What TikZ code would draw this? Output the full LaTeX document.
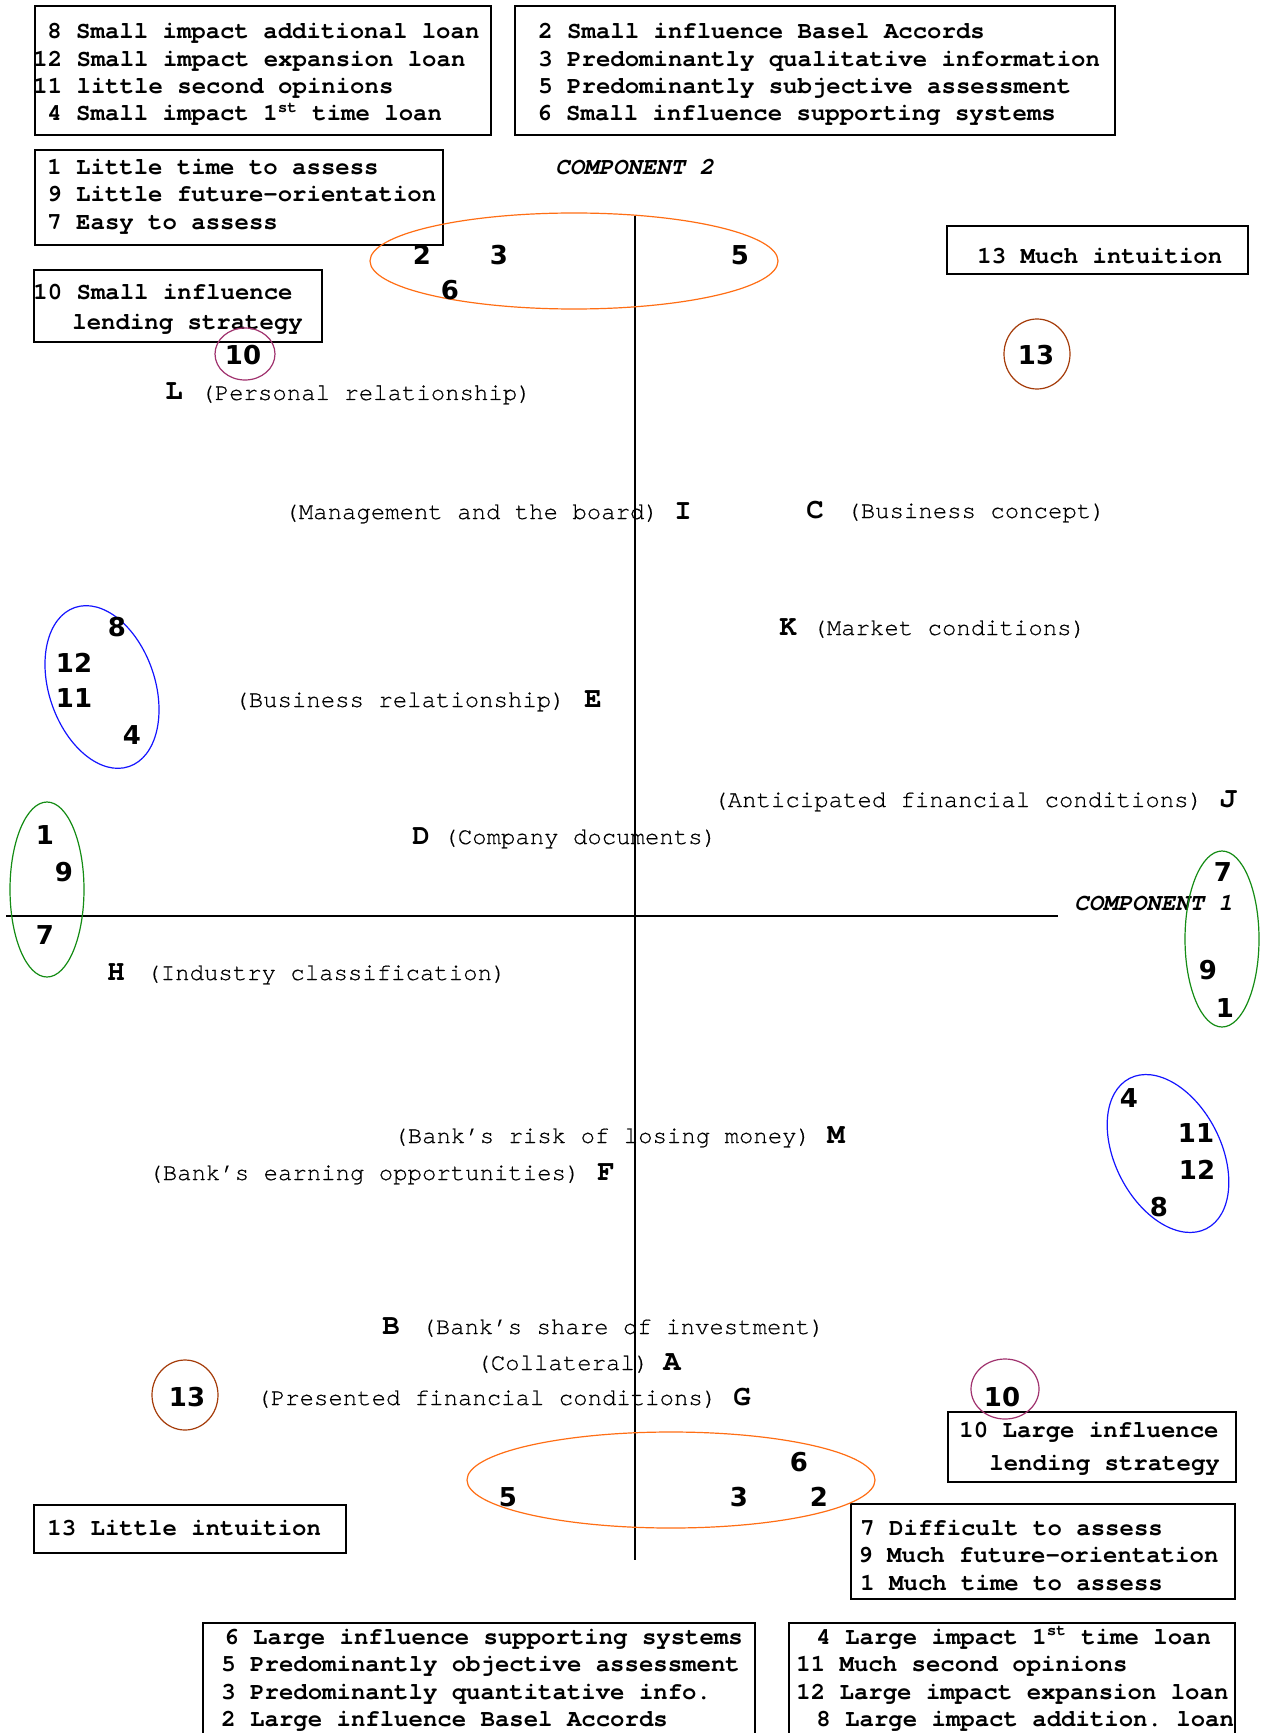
\documentclass[tikz,border=0pt]{standalone}
\usepackage{fontspec}
\setmonofont{TeX Gyre Cursor}[Ligatures=NoCommon]
\newfontfamily\lblfont{TeX Gyre Cursor}[Ligatures=NoCommon, FakeBold=0.4]
\newfontfamily\numfont{DejaVu Sans}
\definecolor{ringorange}{RGB}{255,110,20}
\definecolor{ringblue}{RGB}{20,20,255}
\definecolor{ringgreen}{RGB}{20,140,20}
\definecolor{ringbrown}{RGB}{165,60,10}
\definecolor{ringpurple}{RGB}{160,50,110}
\tikzset{
  boxtxt/.style={anchor=base west, inner sep=0pt, font=\ttfamily\bfseries\fontsize{12}{14}\selectfont},
  lbl/.style={anchor=base west, inner sep=0pt, font=\lblfont\fontsize{12}{14}\selectfont},
  letter/.style={anchor=base west, inner sep=0pt, font=\ttfamily\bfseries\fontsize{14.5}{16}\selectfont},
  num/.style={inner sep=0pt, font=\numfont\bfseries\fontsize{13}{15}\selectfont},
  comp/.style={anchor=base west, inner sep=0pt, font=\ttfamily\bfseries\itshape\fontsize{12}{14}\selectfont},
  legend/.style={draw, line width=0.9pt},
  axis/.style={line width=0.9pt},
  ring/.style={line width=0.6pt},
}
\begin{document}
\begin{tikzpicture}[x=0.5pt,y=-0.5pt]
\fill[white] (0,0) rectangle (1260,1733);
\useasboundingbox (0,0) rectangle (1260,1733);
\begin{scope}
\clip (0,0) rectangle (1260,1733);
% legend boxes
\draw[legend] (35,6) rectangle (491,135);
\draw[legend] (515,6) rectangle (1115,135);
\draw[legend] (35,150) rectangle (443,245);
\draw[legend] (34,270) rectangle (322,342);
\draw[legend] (947,226) rectangle (1248,274);
\draw[legend] (948,1412) rectangle (1236,1482);
\draw[legend] (851,1504) rectangle (1235,1599);
\draw[legend] (34,1505) rectangle (346,1553);
\draw[legend] (203,1623) rectangle (755,1760);
\draw[legend] (789,1623) rectangle (1235,1760);
\end{scope}

% box texts
\node[boxtxt] (b1a) at (47,39) {8 Small impact additional loan};
\node[boxtxt] (b1b) at (33,67) {12 Small impact expansion loan};
\node[boxtxt] (b1c) at (33,94) {11 little second opinions};
\node[boxtxt] (b1d) at (47,121) {4 Small impact 1\textsuperscript{st} time loan};

\node[boxtxt] (b2a) at (538,39) {2 Small influence Basel Accords};
\node[boxtxt] (b2b) at (538,67) {3 Predominantly qualitative information};
\node[boxtxt] (b2c) at (538,94) {5 Predominantly subjective assessment};
\node[boxtxt] (b2d) at (537,121) {6 Small influence supporting systems};

\node[boxtxt] (b3a) at (47,175) {1 Little time to assess};
\node[boxtxt] (b3b) at (47,202) {9 Little future-orientation};
\node[boxtxt] (b3c) at (47,230) {7 Easy to assess};

\node[boxtxt] (b4a) at (33,300) {10 Small influence};
\node[boxtxt] (b4b) at (72,330) {lending strategy};

\node[boxtxt] (b5a) at (977,264) {13 Much intuition};

\node[boxtxt] (b6a) at (959,1437) {10 Large influence};
\node[boxtxt] (b6b) at (989,1470) {lending strategy};

\node[boxtxt] (b7a) at (860,1535) {7 Difficult to assess};
\node[boxtxt] (b7b) at (858,1562) {9 Much future-orientation};
\node[boxtxt] (b7c) at (860,1590) {1 Much time to assess};

\node[boxtxt] (b8a) at (47,1535) {13 Little intuition};

\node[boxtxt] (b9a) at (224,1644) {6 Large influence supporting systems};
\node[boxtxt] (b9b) at (221,1671) {5 Predominantly objective assessment};
\node[boxtxt] (b9c) at (221,1699) {3 Predominantly quantitative info.};
\node[boxtxt] (b9d) at (221,1726) {2 Large influence Basel Accords};

\node[boxtxt] (b10a) at (816,1644) {4 Large impact 1\textsuperscript{st} time loan};
\node[boxtxt] (b10b) at (796,1671) {11 Much second opinions};
\node[boxtxt] (b10c) at (796,1699) {12 Large impact expansion loan};
\node[boxtxt] (b10d) at (816,1726) {8 Large impact addition. loan};

% axes
\coordinate (ytop) at (635,216);
\coordinate (ybot) at (635,1560);
\coordinate (xleft) at (6,916);
\coordinate (xright) at (1058,916);
\draw[axis] (ytop) -- (ybot);
\draw[axis] (xleft) -- (xright);
\node[comp] (comp2) at (555,175) {COMPONENT 2};
\node[comp] (comp1) at (1074,910) {COMPONENT 1};

% variable labels
\node[letter] (lL) at (165,400) {L};
\node[lbl] (tL) at (200,400) {(Personal relationship)};
\node[lbl] (tI) at (284,519) {(Management and the board)};
\node[letter] (lI) at (674,519) {I};
\node[letter] (lC) at (806,518) {C};
\node[lbl] (tC) at (846,518) {(Business concept)};
\node[letter] (lK) at (779,635) {K};
\node[lbl] (tK) at (812,635) {(Market conditions)};
\node[lbl] (tE) at (234,707) {(Business relationship)};
\node[letter] (lE) at (584,707) {E};
\node[lbl] (tJ) at (713,807) {(Anticipated financial conditions)};
\node[letter] (lJ) at (1219,807) {J};
\node[letter] (lD) at (412,844) {D};
\node[lbl] (tD) at (443,844) {(Company documents)};
\node[letter] (lH) at (107,980) {H};
\node[lbl] (tH) at (146,980) {(Industry classification)};
\node[lbl] (tM) at (393,1143) {(Bank’s risk of losing money)};
\node[letter] (lM) at (827,1143) {M};
\node[lbl] (tF) at (148,1180) {(Bank’s earning opportunities)};
\node[letter] (lF) at (597,1180) {F};
\node[letter] (lB) at (382,1334) {B};
\node[lbl] (tB) at (421,1334) {(Bank’s share of investment)};
\node[lbl] (tA) at (476,1370) {(Collateral)};
\node[letter] (lA) at (663,1370) {A};
\node[lbl] (tG) at (256,1405) {(Presented financial conditions)};
\node[letter] (lG) at (733,1405) {G};

% rings
\draw[ring, ringorange] (574,261) ellipse [x radius=204, y radius=48];
\draw[ring, ringorange] (671,1480) ellipse [x radius=204, y radius=48];
\draw[ring, ringblue, rotate around={18.8:(102,687)}] (102,687) ellipse [x radius=53, y radius=84];
\draw[ring, ringblue, rotate around={27:(1168,1153.5)}] (1168,1153.5) ellipse [x radius=53, y radius=84.4];
\draw[ring, ringgreen] (47,889.5) ellipse [x radius=37, y radius=87.5];
\draw[ring, ringgreen] (1222,939) ellipse [x radius=37, y radius=88];
\draw[ring, ringpurple] (245,354) ellipse [x radius=30, y radius=26];
\draw[ring, ringpurple] (1005,1389) ellipse [x radius=34, y radius=30];
\draw[ring, ringbrown] (1037,354) ellipse [x radius=33, y radius=35];
\draw[ring, ringbrown] (185,1395) ellipse [x radius=33, y radius=35];

% numbers
\node[num] (nt2) at (422,255) {2};
\node[num] (nt3) at (499,255) {3};
\node[num] (nt6) at (450,290) {6};
\node[num] (nt5) at (740,255) {5};
\node[num] (nt10) at (243,355) {10};
\node[num] (nt13) at (1036,355) {13};
\node[num] (nl8) at (117,627) {8};
\node[num] (nl12) at (74,663) {12};
\node[num] (nl11) at (74,698) {11};
\node[num] (nl4) at (132,735) {4};
\node[num] (ng1) at (45,835) {1};
\node[num] (ng9) at (64,872) {9};
\node[num] (ng7) at (45,935) {7};
\node[num] (nr7) at (1223,872) {7};
\node[num] (nr9) at (1208,970) {9};
\node[num] (nr1) at (1225,1008) {1};
\node[num] (nb4) at (1129,1098) {4};
\node[num] (nb11) at (1196,1133) {11};
\node[num] (nb12) at (1197,1170) {12};
\node[num] (nb8) at (1159,1207) {8};
\node[num] (nd13) at (187,1397) {13};
\node[num] (nd10) at (1002,1397) {10};
\node[num] (nd5) at (508,1497) {5};
\node[num] (nd6) at (799,1462) {6};
\node[num] (nd3) at (739,1497) {3};
\node[num] (nd2) at (819,1497) {2};
\end{tikzpicture}
\end{document}
